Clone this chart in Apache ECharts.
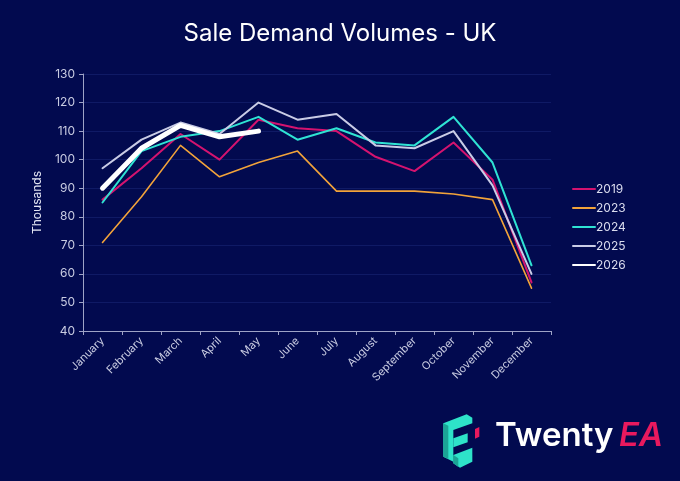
<!DOCTYPE html>
<html lang="en">
<head>
<meta charset="utf-8">
<script src="https://cdn.jsdelivr.net/npm/echarts@6/dist/echarts.min.js"></script>
<style type="text/css">
	html, body { margin: 0; padding: 0; background: #020a4f; }
	#chart { width: 680px; height: 481px; }
</style>
</head>
<body>
<div id="chart"></div>
<script type="text/javascript">
	// chart data
	var months = ['January', 'February', 'March', 'April', 'May', 'June',
		'July', 'August', 'September', 'October', 'November', 'December'];
	var years = ['2019', '2023', '2024', '2025', '2026'];
	var v2019 = [86, 97, 109, 100, 114, 111, 110, 101, 96, 106, 93, 57];
	var v2023 = [71, 87, 105, 94, 99, 103, 89, 89, 89, 88, 86, 55];
	var v2024 = [85, 103, 108, 110, 115, 107, 111, 106, 105, 115, 99, 63];
	var v2025 = [97, 107, 113, 109, 120, 114, 116, 105, 104, 110, 91, 60];
	var v2026 = [90, 104, 112, 108, 110];
	var yTicks = [40, 50, 60, 70, 80, 90, 100, 110, 120, 130];

	var values = [v2019, v2023, v2024, v2025, v2026];
	var colors = ['#d4136f', '#f2a33a', '#2fe3d3', '#c9cce6', '#ffffff'];
	var widths = [2, 1.6, 2, 2, 5];

	var chart = echarts.init(document.getElementById('chart'));
	var font = 'Inter, "Noto Sans", sans-serif';

	var series = years.map(function (y, i) {
		return {
			name: y,
			type: 'line',
			data: values[i],
			symbol: 'none',
			z: 2 + i,
			lineStyle: { color: colors[i], width: widths[i], cap: 'round', join: 'round' },
			itemStyle: { color: colors[i] }
		};
	});

	// logo shapes (decorative)
	function pts(list) {
		return list.map(function (p) { return [435 + p[0] / 3, 405 + p[1] / 3]; });
	}

	chart.setOption({
		backgroundColor: '#020a4f',
		textStyle: { fontFamily: font },
		title: {
			text: 'Sale Demand Volumes - UK',
			left: 'center',
			top: 17,
			textStyle: { color: '#ffffff', fontSize: 24, fontWeight: 'normal', fontFamily: font }
		},
		legend: {
			data: years,
			orient: 'vertical',
			left: 567,
			top: 178,
			itemWidth: 22,
			itemHeight: 10,
			itemGap: 7,
			itemStyle: { opacity: 0 },
			textStyle: { color: '#dadcee', fontSize: 12, padding: [0, 0, 0, -4] }
		},
		grid: { left: 83, right: 129, top: 74, bottom: 150 },
		xAxis: {
			type: 'category',
			data: months,
			boundaryGap: true,
			axisLine: { lineStyle: { color: '#9ea3c6', width: 1 } },
			axisTick: { show: true, length: 4, lineStyle: { color: '#9ea3c6' } },
			axisLabel: { color: '#c9cce2', fontSize: 11, rotate: 45, margin: 8, interval: 0 }
		},
		yAxis: {
			type: 'value',
			min: yTicks[0],
			max: yTicks[yTicks.length - 1],
			interval: 10,
			name: 'Thousands',
			nameLocation: 'middle',
			nameGap: 40,
			nameRotate: 90,
			nameTextStyle: { color: '#e4e6f4', fontSize: 12 },
			axisLine: { show: true, lineStyle: { color: '#9ea3c6', width: 1 } },
			axisTick: { show: true, length: 4, lineStyle: { color: '#9ea3c6' } },
			axisLabel: { color: '#c9cce2', fontSize: 12, margin: 8 },
			splitLine: { lineStyle: { color: 'rgba(90,110,220,0.16)', width: 1 } }
		},
		series: series,
		graphic: [
			{ type: 'polygon', shape: { points: pts([[25, 55], [95, 28], [112, 38], [112, 55], [55, 75], [55, 170], [25, 155]]) }, style: { fill: '#2ee3c9' } },
			{ type: 'polygon', shape: { points: pts([[25, 55], [40, 62], [40, 162], [25, 155]]) }, style: { fill: '#1ba596' } },
			{ type: 'polygon', shape: { points: pts([[55, 100], [98, 85], [98, 112], [55, 127]]) }, style: { fill: '#2ee3c9' } },
			{ type: 'polygon', shape: { points: pts([[55, 150], [112, 128], [112, 170], [75, 188], [55, 175]]) }, style: { fill: '#2ee3c9' } },
			{ type: 'polygon', shape: { points: pts([[55, 150], [70, 160], [70, 186], [55, 175]]) }, style: { fill: '#1ba596' } },
			{ type: 'polygon', shape: { points: pts([[120, 72], [133, 66], [133, 95], [120, 101]]) }, style: { fill: '#e8195e' } },
			{
				type: 'text', left: 495, top: 420,
				style: { text: 'Twenty', fill: '#ffffff', fontSize: 33, fontWeight: 600, fontFamily: font }
			},
			{
				type: 'text', left: 619, top: 420,
				style: { text: 'EA', fill: '#e8195e', fontSize: 33, fontWeight: 600, fontStyle: 'italic', fontFamily: font }
			}
		]
	});
</script>
</body>
</html>
